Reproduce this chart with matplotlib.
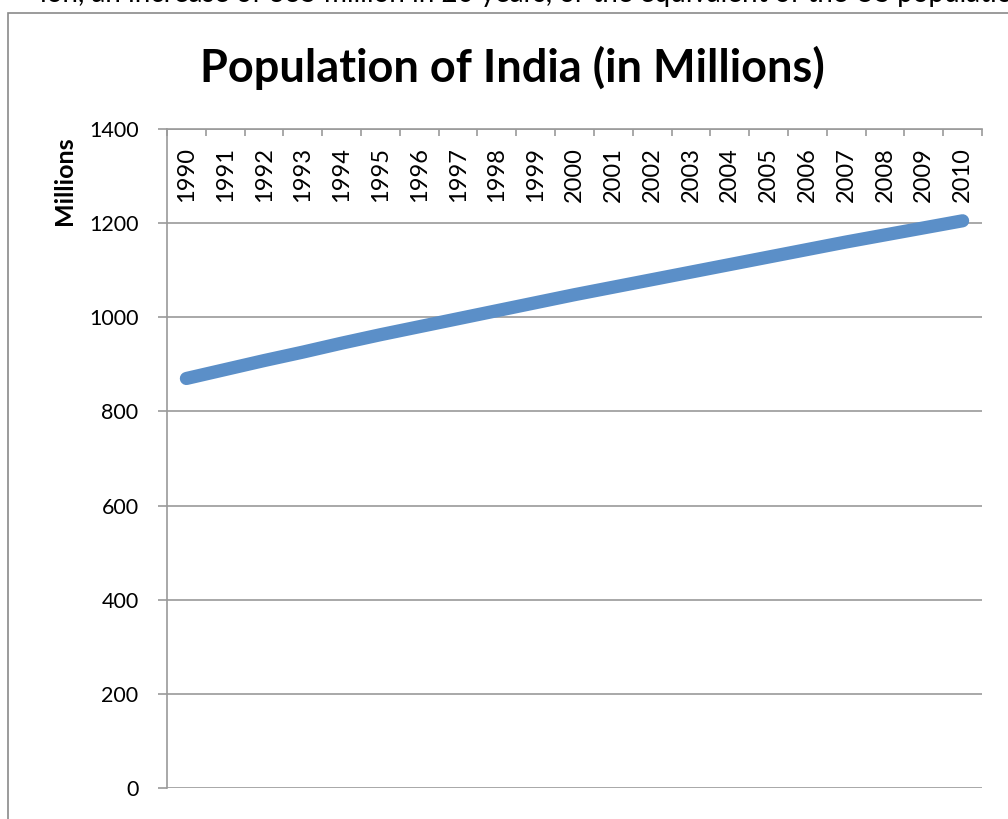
import numpy as np
import matplotlib.pyplot as plt
from matplotlib.patches import Rectangle

plt.rcParams['font.family'] = ['Lato', 'DejaVu Sans']

years = list(range(1990, 2011))
population = [870, 889, 908, 926, 945, 963, 980, 997, 1014, 1031, 1048,
              1064, 1080, 1096, 1112, 1128, 1144, 1160, 1175, 1190, 1205]
y_ticks = [0, 200, 400, 600, 800, 1000, 1200, 1400]

title = "Population of India (in Millions)"
y_title = "Millions"
page_text = "ion, an increase of 335 million in 20 years, or the equivalent of the US population"

grey = '#9a9a9a'
W, H = 1008, 819

fig = plt.figure(figsize=(W / 100, H / 100), dpi=100)
ax = fig.add_axes([167 / W, 1 - 788 / H, (982 - 167) / W, (788 - 129) / H])

x = np.arange(len(years))
ax.plot(x, population, color='#5b8fc8', lw=9.5,
        solid_capstyle='round', solid_joinstyle='round', zorder=3)

ax.set_xlim(-0.5, len(years) - 0.5)
ax.set_ylim(0, 1400)
ax.set_yticks(y_ticks)
ax.yaxis.grid(True, color=grey, lw=1.2, zorder=1)

for side in ['right', 'bottom']:
    ax.spines[side].set_visible(False)
for side in ['left', 'top']:
    ax.spines[side].set_color(grey)
    ax.spines[side].set_linewidth(1.2)

ax.tick_params(axis='y', length=6.5, width=1.2, color=grey, pad=14, labelsize=15.5)

# category axis sits on top, labels inside the plot
ax.xaxis.set_ticks_position('top')
ax.set_xticks(x, labels=[str(y) for y in years], rotation=90)
ax.set_xticks(np.arange(-0.5, len(years)), minor=True)
ax.tick_params(axis='x', which='major', length=0, labeltop=True,
               labelbottom=False, pad=-13, labelsize=17)
ax.tick_params(axis='x', which='minor', direction='in', length=5,
               width=1.2, color=grey, top=True, bottom=False)
plt.setp(ax.get_xticklabels(), va='top')

fig.text(512 / W, 1 - 68 / H, title, ha='center', va='center',
         fontsize=32.5, fontweight='bold')
fig.text(64 / W, 1 - 181 / H, y_title, ha='center', va='center',
         rotation=90, fontsize=18, fontweight='bold')

# chart frame and the tail of the text line above it
fig.add_artist(Rectangle((8 / W, -0.1), 1.2, 1.1 - 13 / H, transform=fig.transFigure,
                         fill=False, edgecolor='#8a8a8a', lw=1.2))
fig.text(40 / W, 1 - 2 / H, page_text, ha='left', va='baseline', fontsize=20)

fig.savefig('out.png', dpi=100)
